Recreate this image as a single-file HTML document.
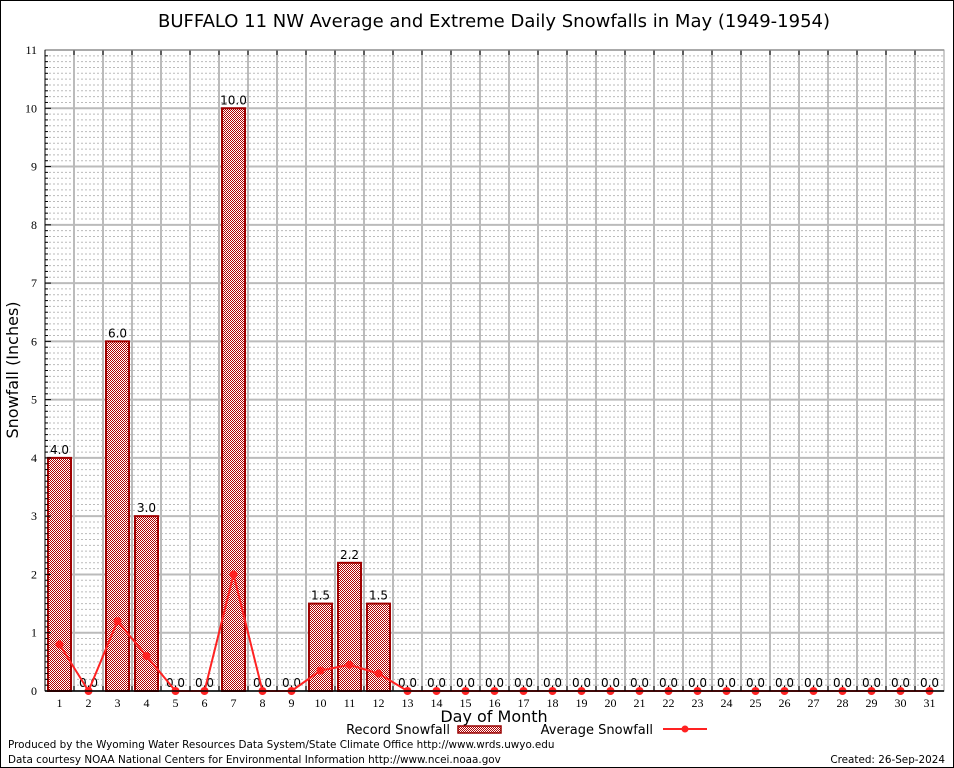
<!DOCTYPE html>
<html><head><meta charset="utf-8"><style>
body{margin:0;background:#fff}
svg{display:block;font-family:"DejaVu Sans","Liberation Sans",sans-serif}
</style></head><body>
<svg id="c" width="954" height="768" viewBox="0 0 954 768">
<defs>
<pattern id="chk" width="2" height="2" patternUnits="userSpaceOnUse">
<rect width="2" height="2" fill="#fff"/><rect width="1" height="1" fill="#b00000"/><rect x="1" y="1" width="1" height="1" fill="#b00000"/>
</pattern>
</defs>
<rect x="0.5" y="0.5" width="953" height="767" fill="#fff" stroke="#000"/>
<text x="494" y="27" font-size="18" text-anchor="middle">BUFFALO 11 NW Average and Extreme Daily Snowfalls in May (1949-1954)</text>
<g id="grid"></g>
<g id="bars"></g>
<g id="avg"></g>
<g id="axes"></g>
<text x="18" y="370" font-size="16" text-anchor="middle" transform="rotate(-90 18 370)">Snowfall (Inches)</text>
<text x="494" y="722" font-size="16" text-anchor="middle">Day of Month</text>
<g>
<text x="450" y="734" font-size="13" text-anchor="end">Record Snowfall</text>
<rect x="458" y="726" width="43" height="7" fill="url(#chk)" stroke="#900" stroke-width="1.5"/>
<text x="653" y="734" font-size="13" text-anchor="end">Average Snowfall</text>
<line x1="663" y1="729" x2="707" y2="729" stroke="#f22" stroke-width="2"/>
<circle cx="685" cy="729" r="3.5" fill="#f22"/>
</g>
<text x="8" y="748" font-size="10.4">Produced by the Wyoming Water Resources Data System/State Climate Office http://www.wrds.uwyo.edu</text>
<text x="8" y="763" font-size="10.4">Data courtesy NOAA National Centers for Environmental Information http://www.ncei.noaa.gov</text>
<text x="945" y="763" font-size="10.4" text-anchor="end">Created: 26-Sep-2024</text>
</svg>
<script>
const days=[1,2,3,4,5,6,7,8,9,10,11,12,13,14,15,16,17,18,19,20,21,22,23,24,25,26,27,28,29,30,31];
const recordValues=[4.0,0,6.0,3.0,0,0,10.0,0,0,1.5,2.2,1.5,0,0,0,0,0,0,0,0,0,0,0,0,0,0,0,0,0,0,0];
const averageValues=[0.8,0,1.2,0.6,0,0,2.0,0,0,0.35,0.45,0.3,0,0,0,0,0,0,0,0,0,0,0,0,0,0,0,0,0,0,0];
const yTicks=[0,1,2,3,4,5,6,7,8,9,10,11];
const NS="http://www.w3.org/2000/svg";
const L=45,R=944,T=50,B=691,yMax=11;
const bw=(R-L)/days.length;
const x=d=>L+(d-0.5)*bw;
const y=v=>B-v/yMax*(B-T);
function mk(tag,attrs,parent,text){const e=document.createElementNS(NS,tag);for(const k in attrs)e.setAttribute(k,attrs[k]);if(text!==undefined)e.textContent=text;parent.appendChild(e);return e;}
const grid=document.getElementById('grid'),bars=document.getElementById('bars'),avg=document.getElementById('avg'),axes=document.getElementById('axes');
for(let i=1;i<yMax*10;i++){if(i%10===0)continue;const e=mk('line',{x1:L,x2:R,y1:y(i/10),y2:y(i/10),stroke:'#bbb','stroke-width':1,'stroke-dasharray':'2,2'},grid);

}
yTicks.forEach(t=>{const e=mk('line',{x1:L,x2:R,y1:y(t),y2:y(t),stroke:'#bbb','stroke-width':2},grid);


const l=mk('text',{x:L-8,y:y(t)+4,'font-size':12,'text-anchor':'end','font-family':'Liberation Serif, serif'},axes,String(t));

});
for(let i=1;i<days.length;i++){const gx=L+i*bw;const e=mk('line',{x1:gx,x2:gx,y1:T,y2:B,stroke:'#bbb','stroke-width':2},grid);


mk('line',{x1:gx,x2:gx,y1:T,y2:T+5,stroke:'#000'},axes);mk('line',{x1:gx,x2:gx,y1:B,y2:B-5,stroke:'#000'},axes);}
for(let i=1;i<yMax*10;i++){mk('line',{x1:L,x2:L+(i%10===0?6:3),y1:y(i/10),y2:y(i/10),stroke:'#000'},axes);}
const frame=mk('rect',{x:L,y:T,width:R-L,height:B-T,fill:'none',stroke:'#999','stroke-width':1},axes);


mk('line',{x1:L,x2:R,y1:B,y2:B,stroke:'#000','stroke-width':1.5},axes);
mk('line',{x1:L,x2:L,y1:T,y2:B,stroke:'#000','stroke-width':1},axes);
days.forEach((d,i)=>{const v=recordValues[i];const cx=x(d);
if(v>0){const r=mk('rect',{x:cx-11.5,y:y(v),width:23,height:B-y(v),fill:'url(#chk)',stroke:'#a00000','stroke-width':2},bars);

}
const lb=mk('text',{x:cx,y:y(v)-4,'font-size':12,'text-anchor':'middle'},bars,v.toFixed(1));


const tl=mk('text',{x:cx,y:B+16,'font-size':12,'text-anchor':'middle','font-family':'Liberation Serif, serif'},axes,String(d));

});
const pts=days.map((d,i)=>x(d)+','+y(averageValues[i])).join(' ');
const pl=mk('polyline',{points:pts,fill:'none',stroke:'#f22','stroke-width':2},avg);


days.forEach((d,i)=>{const c=mk('circle',{cx:x(d),cy:y(averageValues[i]),r:4,fill:'#f22'},avg);

});
</script>
</body></html>
